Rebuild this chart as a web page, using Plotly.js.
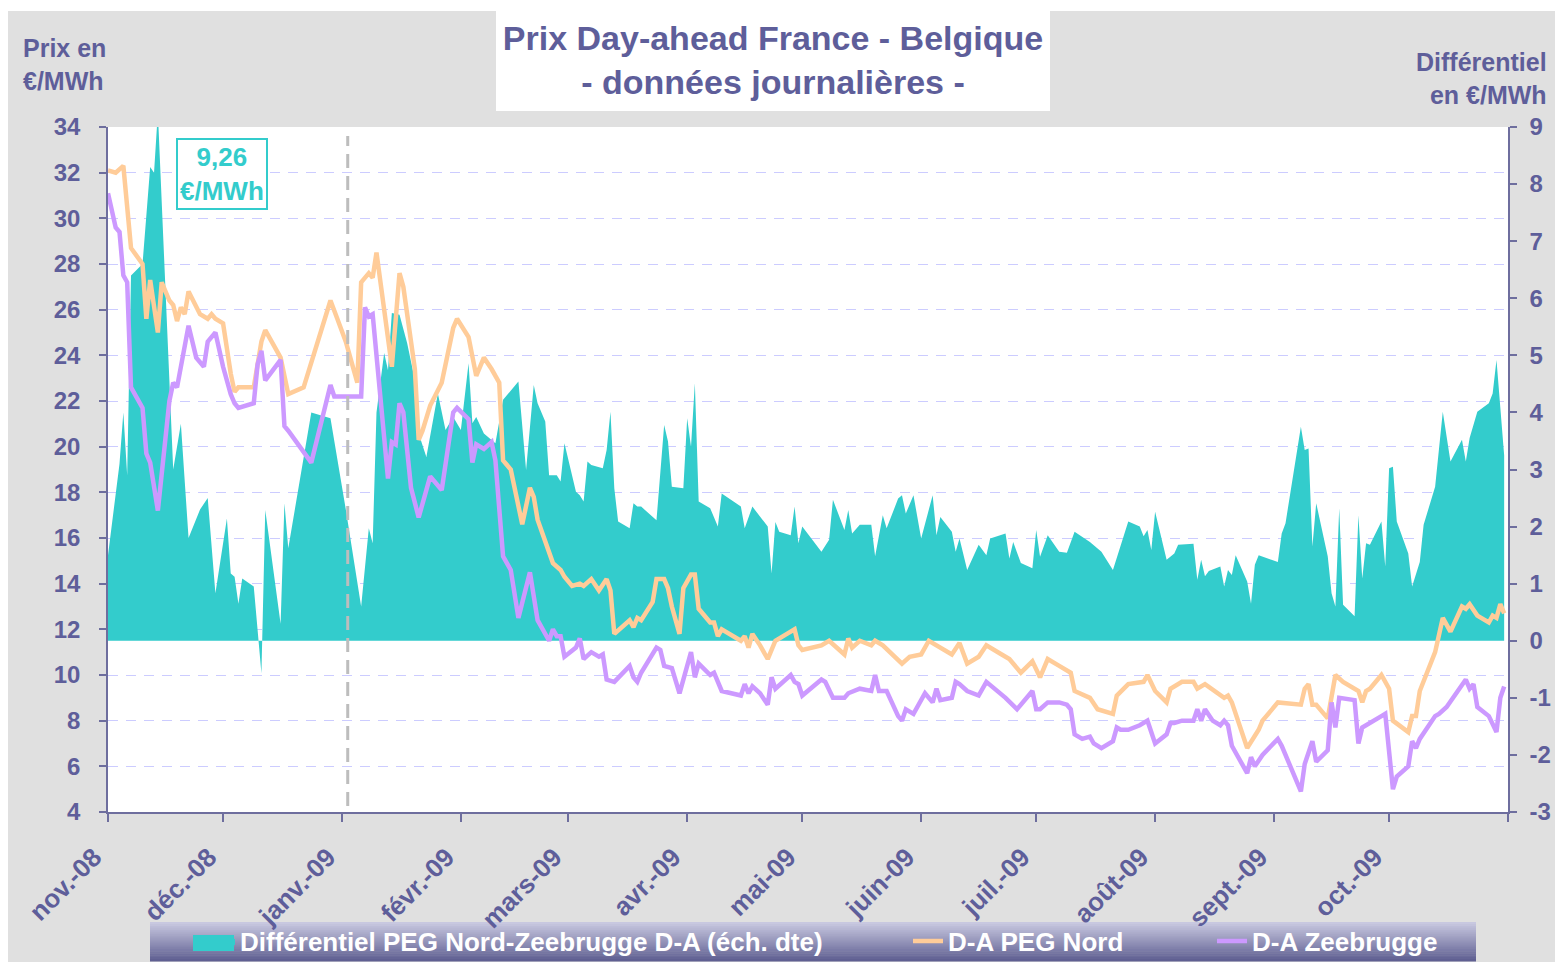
<!DOCTYPE html>
<html><head><meta charset="utf-8">
<script src="https://cdn.plot.ly/plotly-3.0.1.min.js"></script>
<style>html,body{margin:0;padding:0;background:#fff;}#chart{width:1555px;height:962px;}</style>
</head><body><div id="chart"></div>
<script>
// ---------- DATA ----------
const monthTicks = ['2008-11-01','2008-12-01','2009-01-01','2009-02-01','2009-03-01','2009-04-01','2009-05-01','2009-06-01','2009-07-01','2009-08-01','2009-09-01','2009-10-01','2009-11-01'];
const monthLabels = ['nov.-08','déc.-08','janv.-09','févr.-09','mars-09','avr.-09','mai-09','juin-09','juil.-09','août-09','sept.-09','oct.-09',''];

const priceTicks = [4,6,8,10,12,14,16,18,20,22,24,26,28,30,32,34];
const diffTicks = [-3,-2,-1,0,1,2,3,4,5,6,7,8,9];
const diffTickLabels = ['-3','-2','-1','0','1','2','3','4','5','6','7','8','9'];

const seriesNames = ['Différentiel PEG Nord-Zeebrugge D-A (éch. dte)','D-A PEG Nord','D-A Zeebrugge'];

const diffDates = ['2008-11-01','2008-11-04','2008-11-05','2008-11-06','2008-11-07','2008-11-10','2008-11-12','2008-11-13','2008-11-14','2008-11-17','2008-11-18','2008-11-20','2008-11-22','2008-11-25','2008-11-27','2008-11-29','2008-12-02','2008-12-03','2008-12-04','2008-12-05','2008-12-06','2008-12-09','2008-12-11','2008-12-12','2008-12-16','2008-12-17','2008-12-18','2008-12-24','2008-12-29','2009-01-02','2009-01-06','2009-01-08','2009-01-09','2009-01-10','2009-01-12','2009-01-13','2009-01-14','2009-01-16','2009-01-18','2009-01-20','2009-01-21','2009-01-23','2009-01-26','2009-01-28','2009-01-30','2009-02-01','2009-02-03','2009-02-04','2009-02-05','2009-02-07','2009-02-10','2009-02-12','2009-02-14','2009-02-16','2009-02-18','2009-02-20','2009-02-21','2009-02-23','2009-02-24','2009-02-26','2009-02-27','2009-02-28','2009-03-03','2009-03-04','2009-03-05','2009-03-06','2009-03-07','2009-03-10','2009-03-11','2009-03-12','2009-03-13','2009-03-14','2009-03-17','2009-03-18','2009-03-19','2009-03-20','2009-03-24','2009-03-26','2009-03-27','2009-03-28','2009-03-31','2009-04-01','2009-04-02','2009-04-03','2009-04-04','2009-04-07','2009-04-09','2009-04-10','2009-04-15','2009-04-16','2009-04-18','2009-04-22','2009-04-23','2009-04-24','2009-04-25','2009-04-28','2009-04-29','2009-04-30','2009-05-01','2009-05-06','2009-05-08','2009-05-09','2009-05-12','2009-05-13','2009-05-14','2009-05-16','2009-05-19','2009-05-20','2009-05-22','2009-05-23','2009-05-26','2009-05-27','2009-05-28','2009-05-30','2009-06-01','2009-06-03','2009-06-04','2009-06-05','2009-06-06','2009-06-09','2009-06-10','2009-06-11','2009-06-13','2009-06-16','2009-06-18','2009-06-19','2009-06-23','2009-06-24','2009-06-25','2009-06-27','2009-06-30','2009-07-01','2009-07-02','2009-07-04','2009-07-07','2009-07-09','2009-07-11','2009-07-15','2009-07-18','2009-07-21','2009-07-25','2009-07-28','2009-07-29','2009-07-30','2009-07-31','2009-08-01','2009-08-04','2009-08-06','2009-08-07','2009-08-11','2009-08-12','2009-08-13','2009-08-14','2009-08-15','2009-08-18','2009-08-19','2009-08-20','2009-08-21','2009-08-22','2009-08-25','2009-08-26','2009-08-27','2009-08-28','2009-09-02','2009-09-03','2009-09-04','2009-09-08','2009-09-09','2009-09-10','2009-09-11','2009-09-12','2009-09-15','2009-09-16','2009-09-17','2009-09-18','2009-09-19','2009-09-22','2009-09-23','2009-09-24','2009-09-25','2009-09-26','2009-09-29','2009-09-30','2009-10-01','2009-10-02','2009-10-03','2009-10-06','2009-10-07','2009-10-09','2009-10-10','2009-10-13','2009-10-15','2009-10-17','2009-10-20','2009-10-21','2009-10-22','2009-10-24','2009-10-27','2009-10-28','2009-10-29','2009-10-31'];
const diffValues = [1.5,3.1,4.0,2.9,6.4,6.6,8.3,8.2,9.26,4.6,3.0,3.8,1.8,2.3,2.5,0.83,2.14,1.18,1.12,0.65,1.09,0.95,-0.57,2.29,0.30,2.41,1.62,4.0,3.9,2.3,0.60,1.97,1.71,4.0,5.04,4.74,5.74,5.71,5.21,4.57,3.63,3.22,4.33,3.69,3.92,3.69,4.86,3.81,3.92,3.63,3.46,4.22,4.39,4.54,2.99,4.48,4.16,3.84,2.90,2.90,2.79,3.46,2.61,2.55,2.44,3.14,3.08,3.02,3.34,4.01,2.67,2.09,1.97,2.41,2.35,2.35,2.11,3.78,3.49,2.70,2.67,3.90,3.40,4.51,2.44,2.32,2.00,2.58,2.35,1.97,2.35,2.00,1.18,2.08,1.91,1.85,2.35,1.71,2.00,1.56,1.77,2.47,1.94,2.29,1.88,2.03,2.03,1.48,2.20,1.97,2.49,2.55,2.23,2.55,1.79,2.32,2.55,1.85,2.17,1.91,1.56,1.79,1.24,1.68,1.50,1.79,1.88,1.44,1.73,1.36,1.27,1.94,1.47,1.85,1.56,1.54,1.91,1.73,1.56,1.24,2.09,2.00,1.83,1.94,1.59,2.26,1.42,1.53,1.68,1.70,1.07,1.42,1.13,1.22,1.30,0.95,1.24,1.15,1.50,1.04,0.65,1.33,1.50,1.38,1.88,2.06,3.75,3.34,3.37,1.65,2.41,1.48,0.83,0.60,2.32,0.63,0.43,2.20,1.09,1.71,1.68,2.09,1.30,3.02,3.05,2.09,1.53,0.95,1.38,2.03,2.70,4.01,3.14,3.52,3.14,3.55,4.01,4.16,4.33,4.92,3.25];

const pegDates = ['2008-11-01','2008-11-03','2008-11-05','2008-11-07','2008-11-10','2008-11-11','2008-11-12','2008-11-14','2008-11-15','2008-11-17','2008-11-18','2008-11-19','2008-11-20','2008-11-21','2008-11-22','2008-11-25','2008-11-27','2008-11-28','2008-11-29','2008-12-01','2008-12-03','2008-12-04','2008-12-05','2008-12-09','2008-12-11','2008-12-12','2008-12-16','2008-12-17','2008-12-18','2008-12-22','2008-12-29','2008-12-31','2009-01-02','2009-01-05','2009-01-06','2009-01-08','2009-01-09','2009-01-10','2009-01-14','2009-01-16','2009-01-17','2009-01-20','2009-01-21','2009-01-22','2009-01-24','2009-01-27','2009-01-30','2009-01-31','2009-02-03','2009-02-05','2009-02-07','2009-02-09','2009-02-11','2009-02-12','2009-02-14','2009-02-17','2009-02-19','2009-02-20','2009-02-21','2009-02-25','2009-02-27','2009-02-28','2009-03-02','2009-03-04','2009-03-05','2009-03-07','2009-03-09','2009-03-11','2009-03-12','2009-03-13','2009-03-17','2009-03-18','2009-03-19','2009-03-20','2009-03-23','2009-03-24','2009-03-26','2009-03-27','2009-03-28','2009-03-30','2009-03-31','2009-04-02','2009-04-03','2009-04-04','2009-04-07','2009-04-08','2009-04-09','2009-04-10','2009-04-15','2009-04-16','2009-04-17','2009-04-18','2009-04-20','2009-04-22','2009-04-23','2009-04-24','2009-04-27','2009-04-29','2009-04-30','2009-05-01','2009-05-06','2009-05-08','2009-05-12','2009-05-13','2009-05-14','2009-05-16','2009-05-19','2009-05-20','2009-05-22','2009-05-27','2009-05-29','2009-06-01','2009-06-03','2009-06-06','2009-06-09','2009-06-11','2009-06-13','2009-06-16','2009-06-18','2009-06-22','2009-06-24','2009-06-27','2009-06-30','2009-07-02','2009-07-04','2009-07-07','2009-07-10','2009-07-11','2009-07-15','2009-07-17','2009-07-21','2009-07-22','2009-07-25','2009-07-29','2009-07-30','2009-08-01','2009-08-04','2009-08-05','2009-08-06','2009-08-08','2009-08-11','2009-08-12','2009-08-14','2009-08-19','2009-08-20','2009-08-21','2009-08-25','2009-08-28','2009-08-29','2009-09-02','2009-09-08','2009-09-09','2009-09-10','2009-09-11','2009-09-12','2009-09-15','2009-09-17','2009-09-19','2009-09-23','2009-09-24','2009-09-25','2009-09-26','2009-09-29','2009-10-01','2009-10-02','2009-10-06','2009-10-07','2009-10-08','2009-10-09','2009-10-13','2009-10-15','2009-10-17','2009-10-20','2009-10-21','2009-10-22','2009-10-24','2009-10-27','2009-10-28','2009-10-29','2009-10-30','2009-10-31'];
const pegValues = [32.1,32.0,32.3,28.7,28.0,25.6,27.3,25.0,27.2,26.4,26.2,25.5,26.1,25.8,26.8,25.8,25.6,25.8,25.6,25.4,23.2,22.4,22.6,22.6,24.6,25.1,23.9,23.1,22.3,22.6,26.4,25.5,24.6,22.8,27.2,27.6,27.4,28.5,23.5,27.6,27.0,23.4,20.3,20.7,21.8,22.8,25.2,25.6,24.8,23.1,23.9,23.4,22.8,19.4,19.0,16.6,18.2,17.8,16.8,14.9,14.6,14.3,13.9,14.0,13.9,14.2,13.7,14.2,13.7,11.8,12.4,12.1,12.5,12.4,13.2,14.2,14.2,13.8,13.0,11.8,13.8,14.4,14.4,12.9,12.3,12.3,11.7,12.0,11.5,11.7,11.2,11.8,11.3,10.7,11.1,11.5,11.8,12.0,11.3,11.1,11.3,11.5,10.9,11.6,11.2,11.5,11.3,11.5,11.3,10.5,10.8,10.9,11.5,11.2,10.9,11.4,10.5,10.8,11.3,10.9,10.7,10.1,10.6,9.9,10.7,10.4,10.1,9.3,9.0,8.5,8.3,9.1,9.6,9.7,10.0,9.3,8.8,9.4,9.5,9.7,9.7,9.4,9.6,9.0,9.1,8.8,6.8,7.6,8.0,8.8,8.7,9.4,9.6,8.7,8.7,8.1,10.0,9.7,9.3,8.8,9.3,9.4,10.0,9.4,8.0,7.5,8.2,8.2,9.3,11.0,12.5,11.9,13.0,12.9,13.1,12.6,12.3,12.6,12.5,13.1,12.7];

const zeeDates = ['2008-11-01','2008-11-03','2008-11-04','2008-11-05','2008-11-06','2008-11-07','2008-11-10','2008-11-11','2008-11-12','2008-11-14','2008-11-17','2008-11-18','2008-11-19','2008-11-20','2008-11-22','2008-11-24','2008-11-26','2008-11-27','2008-11-29','2008-12-01','2008-12-03','2008-12-04','2008-12-05','2008-12-09','2008-12-10','2008-12-11','2008-12-12','2008-12-16','2008-12-17','2008-12-18','2008-12-24','2008-12-29','2008-12-30','2009-01-06','2009-01-07','2009-01-08','2009-01-09','2009-01-13','2009-01-14','2009-01-15','2009-01-16','2009-01-17','2009-01-19','2009-01-21','2009-01-24','2009-01-27','2009-01-30','2009-01-31','2009-02-03','2009-02-04','2009-02-05','2009-02-07','2009-02-09','2009-02-10','2009-02-12','2009-02-13','2009-02-14','2009-02-16','2009-02-19','2009-02-21','2009-02-24','2009-02-25','2009-02-26','2009-02-27','2009-02-28','2009-03-03','2009-03-04','2009-03-05','2009-03-07','2009-03-09','2009-03-10','2009-03-11','2009-03-13','2009-03-17','2009-03-18','2009-03-19','2009-03-20','2009-03-24','2009-03-25','2009-03-26','2009-03-28','2009-03-30','2009-04-02','2009-04-03','2009-04-04','2009-04-07','2009-04-08','2009-04-10','2009-04-15','2009-04-16','2009-04-17','2009-04-18','2009-04-20','2009-04-22','2009-04-23','2009-04-24','2009-04-28','2009-04-29','2009-04-30','2009-05-01','2009-05-06','2009-05-07','2009-05-09','2009-05-12','2009-05-13','2009-05-16','2009-05-19','2009-05-20','2009-05-21','2009-05-23','2009-05-26','2009-05-27','2009-05-28','2009-05-30','2009-06-02','2009-06-04','2009-06-05','2009-06-06','2009-06-09','2009-06-10','2009-06-11','2009-06-13','2009-06-16','2009-06-18','2009-06-23','2009-06-26','2009-06-30','2009-07-01','2009-07-02','2009-07-04','2009-07-07','2009-07-09','2009-07-10','2009-07-11','2009-07-13','2009-07-15','2009-07-16','2009-07-18','2009-07-21','2009-07-22','2009-07-23','2009-07-25','2009-07-28','2009-07-30','2009-08-01','2009-08-04','2009-08-05','2009-08-06','2009-08-08','2009-08-11','2009-08-12','2009-08-13','2009-08-14','2009-08-16','2009-08-18','2009-08-19','2009-08-20','2009-08-21','2009-08-25','2009-08-26','2009-08-27','2009-08-29','2009-09-02','2009-09-03','2009-09-08','2009-09-09','2009-09-11','2009-09-12','2009-09-15','2009-09-16','2009-09-17','2009-09-18','2009-09-22','2009-09-23','2009-09-24','2009-09-29','2009-09-30','2009-10-02','2009-10-03','2009-10-06','2009-10-07','2009-10-08','2009-10-09','2009-10-13','2009-10-14','2009-10-16','2009-10-21','2009-10-22','2009-10-23','2009-10-24','2009-10-27','2009-10-29','2009-10-30','2009-10-31'];
const zeeValues = [31.1,29.6,29.4,27.5,27.2,22.6,21.7,19.7,19.3,17.2,22.0,22.8,22.6,23.5,25.3,23.9,23.5,24.6,25.0,23.5,22.3,21.9,21.7,21.9,23.6,24.2,22.9,23.8,20.9,20.7,19.3,22.7,22.2,22.2,26.1,25.7,25.8,18.6,20.2,20.1,21.9,21.5,18.2,16.9,18.7,18.1,21.5,21.7,21.2,19.3,20.1,19.9,20.2,19.4,15.2,14.9,14.6,12.5,14.5,12.4,11.5,12.0,11.7,11.7,10.8,11.2,11.6,10.7,11.0,10.8,10.9,9.8,9.7,10.4,9.9,9.7,10.1,11.2,11.1,10.4,10.3,9.2,11.0,9.9,10.5,10.0,10.1,9.3,9.1,9.6,9.2,9.5,9.2,8.7,9.9,9.4,10.0,9.7,9.6,9.1,9.8,9.7,9.0,9.0,9.2,9.4,9.3,10.0,9.3,9.3,8.2,8.0,8.5,8.3,9.2,8.8,9.4,8.9,9.0,9.7,9.6,9.3,9.1,9.7,9.0,8.5,9.3,8.5,8.5,8.8,8.8,8.7,8.5,7.4,7.2,7.3,7.0,6.8,7.1,7.7,7.6,7.6,7.8,8.0,7.0,7.4,7.9,7.9,8.0,8.0,8.5,8.0,8.5,8.0,7.8,8.0,7.8,6.9,5.7,6.4,6.0,6.5,7.2,6.9,4.9,6.1,7.1,6.2,6.7,8.8,7.7,9.0,8.9,7.0,7.7,8.2,8.3,5.0,5.55,6.0,7.1,6.8,7.2,8.2,8.3,8.6,9.8,9.4,9.6,8.6,8.2,7.5,9.0,9.5];

const peakLabel = '9,26<br>€/MWh';
const markerDate = '2009-01-02 12:00';

// ---------- STYLE ----------
const W = 1555, H = 962, ML = 108, MR = 47, MT = 127, MB = 150;
const PW = W - ML - MR, PH = H - MT - MB;
const px = x => (x - ML) / PW;
const py = y => (H - MB - y) / PH;
const FONT = 'Liberation Sans, Arial, sans-serif';
const TXT = '#5E5E9A';
const AXL = '#6E6E9E';
const TEAL = '#33CCCC', ORANGE = '#FFCC99', PURPLE = '#CC99FF';

const shapes = [
  {type:'rect', xref:'paper', yref:'paper', x0:px(0), x1:px(W), y0:py(11), y1:py(0), fillcolor:'#FFFFFF', line:{width:0}, layer:'below'},
  {type:'rect', xref:'paper', yref:'paper', x0:px(0), x1:px(8), y0:py(H), y1:py(0), fillcolor:'#FFFFFF', line:{width:0}, layer:'below'},
  {type:'rect', xref:'paper', yref:'paper', x0:px(496), x1:px(1050), y0:py(111), y1:py(10), fillcolor:'#FFFFFF', line:{width:0}, layer:'below'}
];
// legend band with vertical gradient
const bandTop = 922, bandBot = 961, steps = 20;
const c0 = [200,200,224], c1 = [96,96,146];
for (let i = 0; i < steps; i++) {
  const t = i / (steps - 1);
  const c = c0.map((v, k) => Math.round(v + (c1[k] - v) * t));
  const yA = bandTop + (bandBot - bandTop) * i / steps;
  const yB = bandTop + (bandBot - bandTop) * (i + 1) / steps + 0.6;
  shapes.push({type:'rect', xref:'paper', yref:'paper', x0:px(150), x1:px(1476), y0:py(yB), y1:py(yA),
    fillcolor:`rgb(${c[0]},${c[1]},${c[2]})`, line:{width:0}, layer:'below'});
}
// teal legend swatch
shapes.push({type:'rect', xref:'paper', yref:'paper', x0:px(193), x1:px(234), y0:py(951), y1:py(935), fillcolor:TEAL, line:{width:0}, layer:'below'});
// vertical dashed marker
shapes.push({type:'line', xref:'x', yref:'paper', x0:markerDate, x1:markerDate, y0:py(806), y1:py(136),
  line:{color:'#BDBDBD', width:3, dash:'14px,8px'}, layer:'above'});

const traces = [
  {x: diffDates, y: diffValues, type:'scatter', mode:'lines', fill:'tozeroy', fillcolor:TEAL,
   line:{width:0, color:TEAL}, name: seriesNames[0], yaxis:'y', legend:'legend'},
  {x: pegDates, y: pegValues, type:'scatter', mode:'lines', line:{color:ORANGE, width:4.5},
   name: seriesNames[1], yaxis:'y2', legend:'legend2'},
  {x: zeeDates, y: zeeValues, type:'scatter', mode:'lines', line:{color:PURPLE, width:4.5},
   name: seriesNames[2], yaxis:'y2', legend:'legend3'}
];

const legFont = {family:FONT, size:26, color:'#FFFFFF', weight:'bold'};
const legBase = {orientation:'h', xref:'container', yref:'container', y:(H - 941) / H, yanchor:'middle', xanchor:'left',
  bgcolor:'rgba(0,0,0,0)', borderwidth:0, font:legFont};

const layout = {
  width: W, height: H, autosize:false,
  margin:{l:ML, r:MR, t:MT, b:MB, pad:0, autoexpand:false},
  paper_bgcolor:'#E0E0E0', plot_bgcolor:'#FFFFFF',
  title:{text:'Prix Day-ahead France - Belgique<br>- données journalières -',
    font:{family:FONT, size:34, color:TXT, weight:'bold'},
    xref:'container', x:773/W, xanchor:'center', yref:'container', y:1 - 50/H, yanchor:'top'},
  showlegend:true,
  legend: Object.assign({}, legBase, {x:200 / W}),
  legend2: Object.assign({}, legBase, {x:908 / W}),
  legend3: Object.assign({}, legBase, {x:1212 / W}),
  xaxis:{type:'date', range:['2008-11-01','2009-11-01'], tickmode:'array', tickvals:monthTicks, ticktext:monthLabels,
    tickangle:-45, ticks:'outside', ticklen:8, tickcolor:AXL, tickwidth:1.5, showline:true, linecolor:AXL, linewidth:1.5,
    showgrid:false, zeroline:false, ticklabelstandoff:10, ticklabelshift:-14, automargin:false,
    tickfont:{family:FONT, size:26, color:TXT, weight:'bold'}, anchor:'y'},
  yaxis:{range:[-3,9], tickmode:'array', tickvals:diffTicks, ticktext:diffTickLabels, side:'right', showgrid:false, zeroline:false,
    showline:true, linecolor:AXL, linewidth:1.5, ticks:'outside', ticklen:7, tickcolor:AXL, tickwidth:1.5, automargin:false,
    ticklabelstandoff:8, tickfont:{family:FONT, size:24, color:TXT, weight:'bold'}, anchor:'x'},
  yaxis2:{range:[4,34], tickmode:'array', tickvals:priceTicks, side:'left', overlaying:'y', anchor:'x',
    showgrid:true, gridcolor:'#CCCCFF', gridwidth:1, griddash:'10px,8px', zeroline:false, automargin:false,
    showline:true, linecolor:AXL, linewidth:1.5, ticks:'outside', ticklen:7, tickcolor:AXL, tickwidth:1.5,
    ticklabelstandoff:14, tickfont:{family:FONT, size:24, color:TXT, weight:'bold'}},
  shapes: shapes,
  annotations:[
    {xref:'paper', yref:'paper', x:px(21), y:py(64), xanchor:'left', yanchor:'middle', align:'left', showarrow:false,
     text:'Prix en<br>€/MWh', font:{family:FONT, size:25, color:TXT, weight:'bold'}},
    {xref:'paper', yref:'paper', x:px(1549), y:py(78), xanchor:'right', yanchor:'middle', align:'right', showarrow:false,
     text:'Différentiel<br>en €/MWh', font:{family:FONT, size:25, color:TXT, weight:'bold'}},
    {xref:'paper', yref:'paper', x:px(222), y:py(174), xanchor:'center', yanchor:'middle', align:'center', showarrow:false,
     text:peakLabel, font:{family:FONT, size:26, color:TEAL, weight:'bold'},
     bgcolor:'#FFFFFF', bordercolor:TEAL, borderwidth:2, borderpad:2}
  ]
};

Plotly.newPlot('chart', traces, layout, {displayModeBar:false, responsive:false});
</script>
</body></html>
